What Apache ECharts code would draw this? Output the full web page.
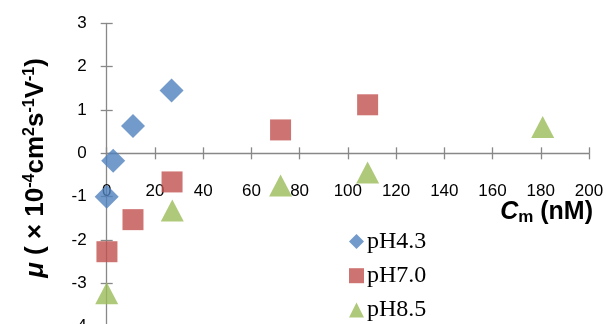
<!DOCTYPE html>
<html><head><meta charset="utf-8">
<script src="https://cdn.jsdelivr.net/npm/echarts@6/dist/echarts.min.js"></script>
<style>html,body{margin:0;padding:0;background:#fff}#c{width:606px;height:324px}</style>
</head><body><div id="c"></div>
<script>
const xTicks = [0, 20, 40, 60, 80, 100, 120, 140, 160, 180, 200];
const yTicks = [-4, -3, -2, -1, 0, 1, 2, 3];
const seriesNames = ['pH4.3', 'pH7.0', 'pH8.5'];
const ph43X = [0, 2.7, 10.9, 26.9];
const ph43Y = [-1.0, -0.17, 0.63, 1.45];
const ph70X = [0.1, 10.9, 27.1, 72.1, 108.2];
const ph70Y = [-2.27, -1.53, -0.66, 0.54, 1.12];
const ph85X = [0, 27.2, 72.1, 108.2, 180.8];
const ph85Y = [-3.23, -1.32, -0.74, -0.44, 0.61];

const zip = (xs, ys) => xs.map((x, i) => [x, ys[i]]);
const axisColor = '#888888';
const chart = echarts.init(document.getElementById('c'), null, {renderer: 'canvas'});
const tickFont = {fontFamily: 'Liberation Sans, Arial', fontSize: 17, color: '#000'};
const xBase = {type: 'value', min: xTicks[0], max: xTicks[xTicks.length - 1], interval: 20, splitLine: {show: false}};
const yBase = {type: 'value', min: yTicks[0], max: yTicks[yTicks.length - 1], interval: 1, splitLine: {show: false}};
const lineSt = {color: axisColor, width: 1.3};

chart.setOption({
  animation: false,
  grid: {left: 106.7, right: 17, top: 23.3, bottom: -2.7, containLabel: false, outerBoundsMode: 'none'},
  xAxis: [
    Object.assign({}, xBase, {
      position: 'bottom',
      axisLine: {show: true, onZero: true, onZeroAxisIndex: 0, lineStyle: lineSt},
      axisTick: {show: true, length: 6, lineStyle: lineSt},
      axisLabel: {show: false}
    }),
    Object.assign({}, xBase, {
      position: 'bottom', offset: -174.4,
      axisLine: {show: false, onZero: false},
      axisTick: {show: false},
      axisLabel: Object.assign({margin: 31, show: true}, tickFont)
    }),
    Object.assign({}, xBase, {
      position: 'bottom',
      axisLine: {show: false, onZero: true, onZeroAxisIndex: 0},
      axisTick: {show: true, inside: true, length: 6, lineStyle: lineSt},
      axisLabel: {show: false}
    })
  ],
  yAxis: [
    Object.assign({}, yBase, {
      position: 'left',
      axisLine: {show: true, onZero: true, onZeroAxisIndex: 0, lineStyle: lineSt},
      axisTick: {show: true, length: 6, lineStyle: lineSt},
      axisLabel: Object.assign({margin: 20}, tickFont)
    }),
    Object.assign({}, yBase, {
      position: 'left',
      axisLine: {show: false, onZero: true, onZeroAxisIndex: 0},
      axisTick: {show: true, inside: true, length: 6, lineStyle: lineSt},
      axisLabel: {show: false}
    })
  ],
  legend: {
    orient: 'vertical', left: 349, top: 229.5, padding: 0, height: 120,
    itemWidth: 15, itemHeight: 15, itemGap: 10.2,
    textStyle: {fontFamily: 'Liberation Serif, Times New Roman', fontSize: 24, color: '#000', lineHeight: 22, padding: [0, 0, 0, -2]},
    data: [
      {name: seriesNames[0], icon: 'diamond'},
      {name: seriesNames[1], icon: 'rect'},
      {name: seriesNames[2], icon: 'triangle'}
    ]
  },
  series: [
    {name: seriesNames[0], type: 'scatter', symbol: 'diamond', symbolSize: [24, 24], clip: false,
     xAxisIndex: 0, yAxisIndex: 0, itemStyle: {color: '#4F81BD'}, data: zip(ph43X, ph43Y), z: 5},
    {name: seriesNames[1], type: 'scatter', symbol: 'rect', symbolSize: [21, 21], clip: false,
     xAxisIndex: 0, yAxisIndex: 0, itemStyle: {color: '#C0504D'}, data: zip(ph70X, ph70Y), z: 4},
    {name: seriesNames[2], type: 'scatter', symbol: 'triangle', symbolSize: [23, 22], clip: false,
     xAxisIndex: 0, yAxisIndex: 0, itemStyle: {color: '#9BBB59'}, data: zip(ph85X, ph85Y), z: 3}
  ],
  graphic: [
    {type: 'text', x: 36, y: 168, rotation: Math.PI / 2,
     style: {
       text: '{mu|μ}{t| ( × 10}{sup|-4}{t|cm}{sup|2}{t|s}{sup|-1}{t|V}{sup|-1}{t|)}',
       align: 'center', verticalAlign: 'middle',
       rich: {
         mu: {fontFamily: 'Liberation Sans', fontWeight: 'bold', fontStyle: 'italic', fontSize: 26, lineHeight: 28, fill: '#000'},
         t: {fontFamily: 'Liberation Sans', fontWeight: 'bold', fontSize: 26, lineHeight: 28, fill: '#000'},
         sup: {fontFamily: 'Liberation Sans', fontWeight: 'bold', fontSize: 16, lineHeight: 16, verticalAlign: 'top', fill: '#000'}
       }
     }},
    {type: 'text', right: 13, top: 200,
     style: {
       text: '{c|C}{sub|m}{t| (nM)}',
       rich: {
         c: {fontFamily: 'Liberation Sans', fontWeight: 'bold', fontStyle: 'italic', fontSize: 25, lineHeight: 26, fill: '#000'},
         t: {fontFamily: 'Liberation Sans', fontWeight: 'bold', fontSize: 25, lineHeight: 26, fill: '#000'},
         sub: {fontFamily: 'Liberation Sans', fontWeight: 'bold', fontSize: 17, lineHeight: 17, verticalAlign: 'bottom', fill: '#000'}
       }
     }}
  ]
});
</script></body></html>
